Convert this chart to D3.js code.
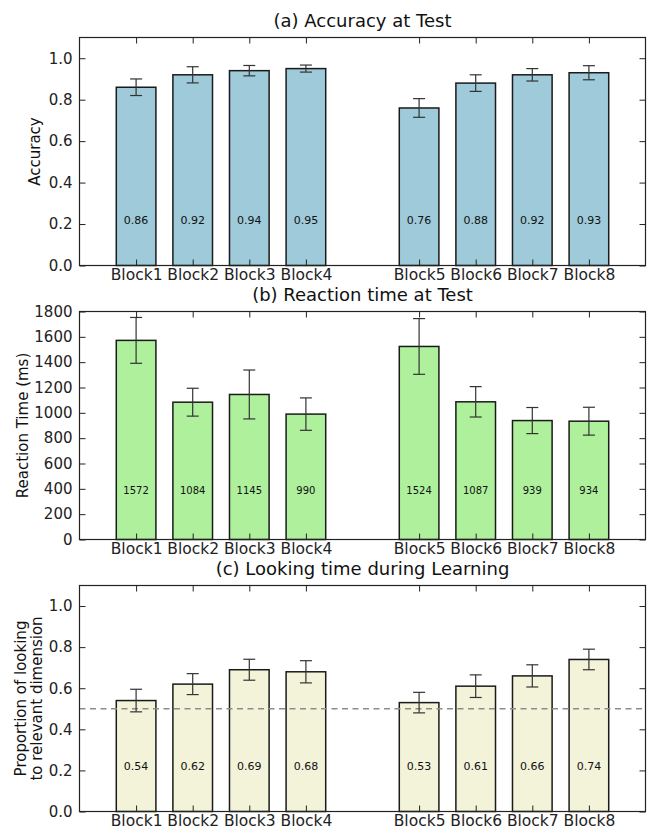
<!DOCTYPE html>
<html>
<head>
<meta charset="utf-8">
<script src="https://cdn.jsdelivr.net/npm/d3@7"></script>
<style>
  body { margin: 0; background: #fff; }
  svg { display: block; font-family: "DejaVu Sans", sans-serif; }
</style>
</head>
<body>
<svg id="chart" width="649" height="831"></svg>
<script>
// ---- data ----
const blocks = ["Block1","Block2","Block3","Block4","Block5","Block6","Block7","Block8"];
const blockPos = [1, 2, 3, 4, 6, 7, 8, 9];

const accuracy = [0.86, 0.92, 0.94, 0.95, 0.76, 0.88, 0.92, 0.93];
const accuracyErr = [0.040, 0.039, 0.025, 0.017, 0.045, 0.040, 0.030, 0.034];
const accuracyTicks = [0.0, 0.2, 0.4, 0.6, 0.8, 1.0];

const reactionTime = [1572, 1084, 1145, 990, 1524, 1087, 939, 934];
const reactionErr = [181, 110, 193, 128, 220, 120, 103, 110];
const reactionTicks = [0, 200, 400, 600, 800, 1000, 1200, 1400, 1600, 1800];

const looking = [0.54, 0.62, 0.69, 0.68, 0.53, 0.61, 0.66, 0.74];
const lookingErr = [0.055, 0.051, 0.051, 0.054, 0.050, 0.055, 0.054, 0.050];
const lookingTicks = [0.0, 0.2, 0.4, 0.6, 0.8, 1.0];
const chanceLevel = 0.5;

const panels = [
  { title: "(a) Accuracy at Test", ylabel: ["Accuracy"], values: accuracy, err: accuracyErr,
    ticks: accuracyTicks, ymax: 1.1, fmt: d3.format(".1f"), lab: d3.format(".2f"),
    color: "#9ecad9", top: 37.5, bottom: 265.5, ref: null, labFrac: 0.2, labSize: 11, ylx: 40 },
  { title: "(b) Reaction time at Test", ylabel: ["Reaction Time (ms)"], values: reactionTime, err: reactionErr,
    ticks: reactionTicks, ymax: 1800, fmt: d3.format("d"), lab: d3.format("d"),
    color: "#aef09c", top: 311.5, bottom: 539.5, ref: null, labFrac: 0.213, labSize: 10, ylx: 28 },
  { title: "(c) Looking time during Learning", ylabel: ["Proportion of looking", "to relevant dimension"],
    values: looking, err: lookingErr,
    ticks: lookingTicks, ymax: 1.1, fmt: d3.format(".1f"), lab: d3.format(".2f"),
    color: "#f3f3da", top: 585.5, bottom: 811.5, ref: chanceLevel, labFrac: 0.2, labSize: 11, ylx: 26 }
];

const svg = d3.select("#chart");
const left = 79.5, right = 645.5;
const x = d3.scaleLinear().domain([0, 10]).range([left, right]);
const barW = 0.7;
const tickLen = 6;

panels.forEach(p => {
  const y = d3.scaleLinear().domain([0, p.ymax]).range([p.bottom, p.top]);
  const g = svg.append("g");

  // bars
  g.selectAll("rect.bar").data(p.values).enter().append("rect")
    .attr("class", "bar")
    .attr("x", (d, i) => x(blockPos[i] - barW / 2))
    .attr("width", x(barW) - x(0))
    .attr("y", d => y(d))
    .attr("height", d => y(0) - y(d))
    .attr("fill", p.color)
    .attr("stroke", "#1a1a1a")
    .attr("stroke-width", 1.5);

  // reference line
  if (p.ref !== null) {
    g.append("line")
      .attr("x1", left).attr("x2", right)
      .attr("y1", y(p.ref)).attr("y2", y(p.ref))
      .attr("stroke", "#8c8c8c").attr("stroke-width", 1.6)
      .attr("stroke-dasharray", "6,4.5");
  }

  // error bars
  const eb = g.selectAll("g.err").data(p.values).enter().append("g").attr("class", "err");
  eb.append("line")
    .attr("x1", (d, i) => x(blockPos[i])).attr("x2", (d, i) => x(blockPos[i]))
    .attr("y1", (d, i) => y(d - p.err[i])).attr("y2", (d, i) => y(d + p.err[i]))
    .attr("stroke", "#333").attr("stroke-width", 1.2);
  [-1, 1].forEach(s => {
    eb.append("line")
      .attr("x1", (d, i) => x(blockPos[i]) - 6).attr("x2", (d, i) => x(blockPos[i]) + 6)
      .attr("y1", (d, i) => y(d + s * p.err[i])).attr("y2", (d, i) => y(d + s * p.err[i]))
      .attr("stroke", "#333").attr("stroke-width", 1.2);
  });

  // value labels
  g.selectAll("text.val").data(p.values).enter().append("text")
    .attr("class", "val")
    .attr("x", (d, i) => x(blockPos[i]))
    .attr("y", y(p.ymax * p.labFrac))
    .attr("dy", "0.35em")
    .attr("text-anchor", "middle")
    .attr("font-size", p.labSize)
    .attr("fill", "#111")
    .text(d => p.lab(d));

  // axes: left (inside ticks) and right
  const yAxisL = d3.axisLeft(y).tickValues(p.ticks).tickFormat(p.fmt).tickSizeInner(-tickLen).tickSizeOuter(0).tickPadding(7);
  const gl = g.append("g").attr("transform", `translate(${left},0)`).call(yAxisL);
  gl.select(".domain").remove();
  gl.selectAll("text").attr("font-size", 15).attr("font-family", "DejaVu Sans").attr("fill", "#222");
  gl.selectAll("line").attr("stroke", "#222");

  const yAxisR = d3.axisRight(y).tickValues(p.ticks).tickFormat("").tickSizeInner(-tickLen).tickSizeOuter(0);
  const gr = g.append("g").attr("transform", `translate(${right},0)`).call(yAxisR);
  gr.select(".domain").remove();
  gr.selectAll("line").attr("stroke", "#222");

  const xAxisB = d3.axisBottom(x).tickValues(blockPos).tickFormat((d, i) => blocks[i])
    .tickSizeInner(-tickLen).tickSizeOuter(0).tickPadding(3);
  const gb = g.append("g").attr("transform", `translate(0,${p.bottom})`).call(xAxisB);
  gb.select(".domain").remove();
  gb.selectAll("text").attr("font-size", 15.5).attr("font-family", "DejaVu Sans").attr("fill", "#222")
    .attr("dy", "0.75em");
  gb.selectAll("line").attr("stroke", "#222");

  const xAxisT = d3.axisTop(x).tickValues(blockPos).tickFormat("").tickSizeInner(-tickLen).tickSizeOuter(0);
  const gt = g.append("g").attr("transform", `translate(0,${p.top})`).call(xAxisT);
  gt.select(".domain").remove();
  gt.selectAll("line").attr("stroke", "#222");

  // frame
  g.append("rect")
    .attr("x", left).attr("y", p.top)
    .attr("width", right - left).attr("height", p.bottom - p.top)
    .attr("fill", "none").attr("stroke", "#222").attr("stroke-width", 1.2);

  // title
  g.append("text")
    .attr("x", (left + right) / 2).attr("y", p.top - 11)
    .attr("text-anchor", "middle").attr("font-size", 18).attr("fill", "#111")
    .text(p.title);

  // y label
  const cy = (p.top + p.bottom) / 2;
  p.ylabel.forEach((t, k) => {
    const cx = p.ylx + k * 16;
    g.append("text")
      .attr("transform", `translate(${cx},${cy}) rotate(-90)`)
      .attr("text-anchor", "middle").attr("font-size", 15).attr("fill", "#111")
      .text(t);
  });
});
</script>
</body>
</html>
